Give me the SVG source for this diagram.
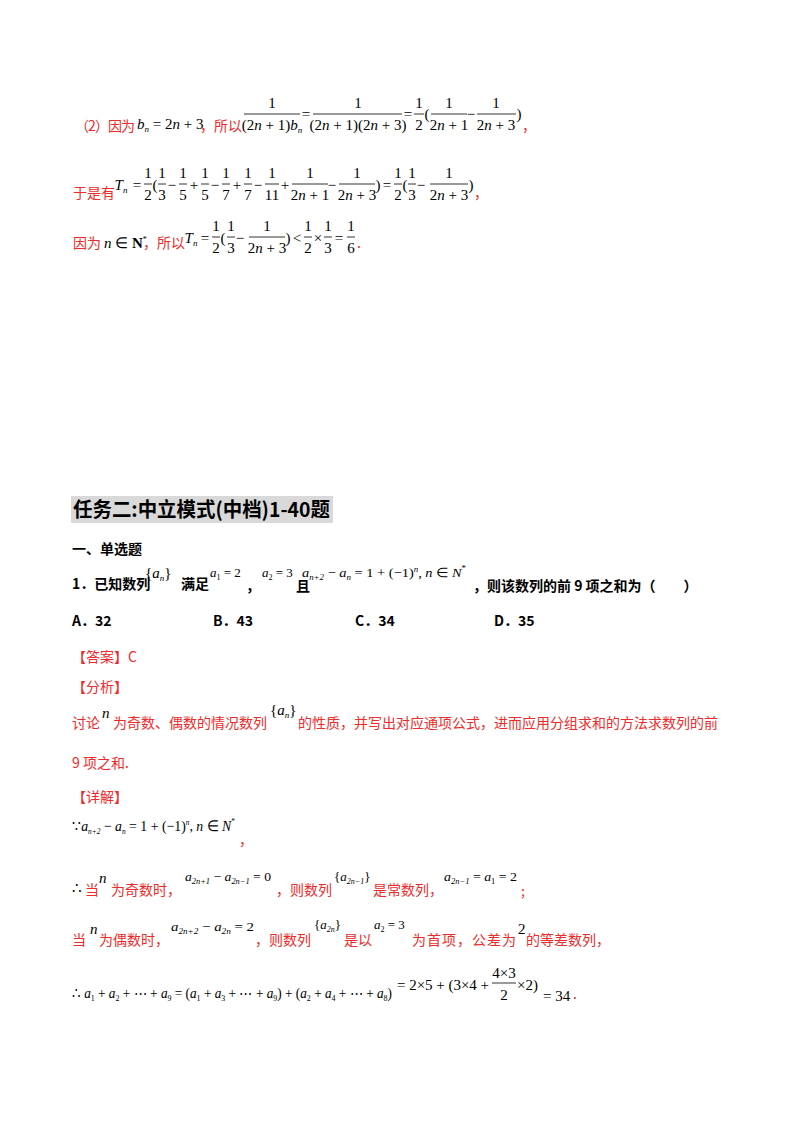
<svg xmlns="http://www.w3.org/2000/svg" width="800" height="1132" viewBox="0 0 800 1132">
<style>
.r{fill:#ee2a2a;font-family:"Noto Sans CJK SC","Liberation Sans",sans-serif;font-size:14px}
.b{fill:#000;font-family:"Noto Sans CJK SC",sans-serif;font-size:14px;font-weight:bold}
.m{fill:#000;font-family:"Liberation Serif",serif;font-size:15px}
.s{fill:#000;font-family:"Liberation Serif",serif;font-size:13px}
.i{font-style:italic}
.c{text-anchor:middle}
.f{stroke:#000;stroke-width:0.8}
</style>
<rect width="800" height="1132" fill="#fff"/>
<!-- line 1 -->
<text class="r" x="75" y="131" textLength="60">（2）因为</text>
<text class="m" x="137" y="129"><tspan class="i">b</tspan><tspan font-size="9" dy="3" class="i">n</tspan><tspan dy="-3"> = 2</tspan><tspan class="i">n</tspan> + 3</text>
<text class="r" x="200" y="131">，所以</text>
<g class="m c"><text x="272" y="108">1</text><text x="272" y="130">(2<tspan class="i">n</tspan> + 1)<tspan class="i">b</tspan><tspan font-size="9" class="i" dy="3">n</tspan></text>
<text x="358" y="108">1</text><text x="358" y="130">(2<tspan class="i">n</tspan> + 1)(2<tspan class="i">n</tspan> + 3)</text>
<text x="306" y="119">=</text><text x="408" y="119">=</text>
<text x="419" y="108">1</text><text x="419" y="130">2</text><text x="427" y="119">(</text>
<text x="449" y="108">1</text><text x="449" y="130">2<tspan class="i">n</tspan> + 1</text><text x="471" y="119">−</text>
<text x="496" y="108">1</text><text x="496" y="130">2<tspan class="i">n</tspan> + 3</text><text x="519" y="119">)</text></g>
<g class="f"><line x1="244" y1="114" x2="300" y2="114"/><line x1="313" y1="114" x2="402" y2="114"/><line x1="414" y1="114" x2="424" y2="114"/><line x1="431" y1="114" x2="467" y2="114"/><line x1="477" y1="114" x2="516" y2="114"/></g>
<text class="r" x="522" y="131">，</text>
<!-- line 2 -->
<text class="r" x="73" y="198">于是有</text>
<g class="m c">
<text x="121" y="190" class="i">T<tspan font-size="9" dy="3">n</tspan></text><text x="137" y="190">=</text>
<text x="148" y="178">1</text><text x="148" y="200">2</text><text x="155" y="190">(</text>
<text x="162" y="178">1</text><text x="162" y="200">3</text><text x="172" y="190">−</text>
<text x="183" y="178">1</text><text x="183" y="200">5</text><text x="194" y="190">+</text>
<text x="205" y="178">1</text><text x="205" y="200">5</text><text x="215" y="190">−</text>
<text x="226" y="178">1</text><text x="226" y="200">7</text><text x="237" y="190">+</text>
<text x="248" y="178">1</text><text x="248" y="200">7</text><text x="258" y="190">−</text>
<text x="272" y="178">1</text><text x="272" y="200">11</text><text x="285" y="190">+</text>
<text x="310" y="178">1</text><text x="310" y="200">2<tspan class="i">n</tspan> + 1</text><text x="332" y="190">−</text>
<text x="357" y="178">1</text><text x="357" y="200">2<tspan class="i">n</tspan> + 3</text><text x="378" y="190">)</text><text x="387" y="190">=</text>
<text x="398" y="178">1</text><text x="398" y="200">2</text><text x="405" y="190">(</text>
<text x="412" y="178">1</text><text x="412" y="200">3</text><text x="421" y="190">−</text>
<text x="449" y="178">1</text><text x="449" y="200">2<tspan class="i">n</tspan> + 3</text><text x="471" y="190">)</text></g>
<g class="f"><line x1="144" y1="184" x2="152" y2="184"/><line x1="158" y1="184" x2="166" y2="184"/><line x1="179" y1="184" x2="187" y2="184"/><line x1="201" y1="184" x2="209" y2="184"/><line x1="222" y1="184" x2="230" y2="184"/><line x1="244" y1="184" x2="252" y2="184"/><line x1="265" y1="184" x2="279" y2="184"/><line x1="292" y1="184" x2="328" y2="184"/><line x1="339" y1="184" x2="375" y2="184"/><line x1="394" y1="184" x2="402" y2="184"/><line x1="408" y1="184" x2="416" y2="184"/><line x1="430" y1="184" x2="468" y2="184"/></g>
<text class="r" x="474" y="198">，</text>
<!-- line 3 -->
<text class="r" x="73" y="248">因为</text>
<text class="m" x="104" y="248"><tspan class="i">n</tspan> ∈ <tspan font-weight="bold">N</tspan><tspan font-size="8" dy="-6">*</tspan></text>
<text class="r" x="143" y="248">，所以</text>
<g class="m c">
<text x="191" y="243" class="i">T<tspan font-size="9" dy="3">n</tspan></text><text x="205" y="243">=</text>
<text x="216" y="231">1</text><text x="216" y="253">2</text><text x="223" y="243">(</text>
<text x="231" y="231">1</text><text x="231" y="253">3</text><text x="240" y="243">−</text>
<text x="267" y="231">1</text><text x="267" y="253">2<tspan class="i">n</tspan> + 3</text><text x="288" y="243">)</text><text x="297" y="243">&lt;</text>
<text x="308" y="231">1</text><text x="308" y="253">2</text><text x="318" y="243">×</text>
<text x="328" y="231">1</text><text x="328" y="253">3</text><text x="339" y="243">=</text>
<text x="351" y="231">1</text><text x="351" y="253">6</text></g>
<g class="f"><line x1="212" y1="237" x2="220" y2="237"/><line x1="227" y1="237" x2="235" y2="237"/><line x1="249" y1="237" x2="285" y2="237"/><line x1="304" y1="237" x2="312" y2="237"/><line x1="324" y1="237" x2="332" y2="237"/><line x1="347" y1="237" x2="355" y2="237"/></g>
<text class="r" x="357" y="248">.</text>
<!-- title -->
<rect x="71" y="496" width="262" height="27" fill="#d9d9d9"/>
<text x="73" y="517" font-family="Noto Sans CJK SC,sans-serif" font-size="20" font-weight="bold" fill="#000" textLength="257" lengthAdjust="spacingAndGlyphs">任务二:中立模式(中档)1-40题</text>
<text class="b" x="72" y="554" font-size="13">一、单选题</text>
<text class="b" x="72" y="589">1．已知数列</text>
<text class="m" x="145" y="578">{<tspan class="i">a</tspan><tspan font-size="9" dy="3" class="i">n</tspan><tspan dy="-3">}</tspan></text>
<text class="b" x="181" y="589">满足</text>
<text class="s" x="210" y="577"><tspan class="i">a</tspan><tspan font-size="8" dy="3">1</tspan><tspan dy="-3"> = 2</tspan></text>
<text class="b" x="246" y="591">，</text>
<text class="s" x="262" y="577"><tspan class="i">a</tspan><tspan font-size="8" dy="3">2</tspan><tspan dy="-3"> = 3</tspan></text>
<text class="b" x="296" y="591">且</text>
<text class="s" x="302" y="577" textLength="164" lengthAdjust="spacingAndGlyphs"><tspan class="i">a</tspan><tspan font-size="8" dy="3" class="i">n+2</tspan><tspan dy="-3"> − </tspan><tspan class="i">a</tspan><tspan font-size="8" dy="3" class="i">n</tspan><tspan dy="-3"> = 1 + (−1)</tspan><tspan font-size="8" dy="-5" class="i">n</tspan><tspan dy="5">, </tspan><tspan class="i">n</tspan> ∈ <tspan class="i">N</tspan><tspan font-size="8" dy="-6">*</tspan></text>
<text class="b" x="473" y="591">，则该数列的前 9 项之和为（　　）</text>
<text class="b" x="72" y="626">A．32</text><text class="b" x="213" y="626">B．43</text><text class="b" x="355" y="626">C．34</text><text class="b" x="494" y="626">D．35</text>
<text class="r" x="72" y="662">【答案】C</text>
<text class="r" x="72" y="692">【分析】</text>
<text class="r" x="72" y="728">讨论</text>
<text class="m i" x="102" y="718">n</text>
<text class="r" x="113" y="728">为奇数、偶数的情况数列</text>
<text class="m" x="270" y="715">{<tspan class="i">a</tspan><tspan font-size="9" dy="3" class="i">n</tspan><tspan dy="-3">}</tspan></text>
<text class="r" x="298" y="728" textLength="420">的性质，并写出对应通项公式，进而应用分组求和的方法求数列的前</text>
<text class="r" x="72" y="768">9 项之和.</text>
<text class="r" x="72" y="802">【详解】</text>
<text class="m" x="72" y="831" textLength="163" lengthAdjust="spacingAndGlyphs">∵<tspan class="i">a</tspan><tspan font-size="8" dy="3" class="i">n+2</tspan><tspan dy="-3"> − </tspan><tspan class="i">a</tspan><tspan font-size="8" dy="3" class="i">n</tspan><tspan dy="-3"> = 1 + (−1)</tspan><tspan font-size="8" dy="-6" class="i">n</tspan><tspan dy="6">, </tspan><tspan class="i">n</tspan> ∈ <tspan class="i">N</tspan><tspan font-size="8" dy="-7">*</tspan></text>
<text class="r" x="239" y="845">，</text>
<text class="m" x="72" y="893">∴</text>
<text class="r" x="85" y="895">当</text><text class="m i" x="99" y="883" font-size="16">n</text>
<text class="r" x="111" y="895">为奇数时，</text>
<text class="s" x="185" y="881" textLength="86" lengthAdjust="spacingAndGlyphs"><tspan class="i">a</tspan><tspan font-size="8" dy="3" class="i">2n+1</tspan><tspan dy="-3"> − </tspan><tspan class="i">a</tspan><tspan font-size="8" dy="3" class="i">2n−1</tspan><tspan dy="-3"> = 0</tspan></text>
<text class="r" x="276" y="895">，则数列</text>
<text class="s" x="334" y="881">{<tspan class="i">a</tspan><tspan font-size="8" dy="3" class="i">2n−1</tspan><tspan dy="-3">}</tspan></text>
<text class="r" x="373" y="895">是常数列，</text>
<text class="s" x="444" y="881" textLength="73" lengthAdjust="spacingAndGlyphs"><tspan class="i">a</tspan><tspan font-size="8" dy="3" class="i">2n−1</tspan><tspan dy="-3"> = </tspan><tspan class="i">a</tspan><tspan font-size="8" dy="3">1</tspan><tspan dy="-3"> = 2</tspan></text>
<text class="r" x="521" y="896">;</text>
<text class="r" x="72" y="945">当</text><text class="m i" x="90" y="934" font-size="16">n</text>
<text class="r" x="99" y="945">为偶数时，</text>
<text class="s" x="171" y="931" textLength="83" lengthAdjust="spacingAndGlyphs"><tspan class="i">a</tspan><tspan font-size="8" dy="3" class="i">2n+2</tspan><tspan dy="-3"> − </tspan><tspan class="i">a</tspan><tspan font-size="8" dy="3" class="i">2n</tspan><tspan dy="-3"> = 2</tspan></text>
<text class="r" x="255" y="945">，则数列</text>
<text class="s" x="314" y="929">{<tspan class="i">a</tspan><tspan font-size="8" dy="3" class="i">2n</tspan><tspan dy="-3">}</tspan></text>
<text class="r" x="344" y="945">是以</text>
<text class="s" x="374" y="929"><tspan class="i">a</tspan><tspan font-size="8" dy="3">2</tspan><tspan dy="-3"> = 3</tspan></text>
<text class="r" x="412" y="945" textLength="104">为首项，公差为</text>
<text class="m" x="518" y="934" font-size="16">2</text>
<text class="r" x="526" y="945">的等差数列，</text>
<text class="m" x="72" y="998" textLength="320" lengthAdjust="spacingAndGlyphs">∴ <tspan class="i">a</tspan><tspan font-size="9" dy="3">1</tspan><tspan dy="-3"> + </tspan><tspan class="i">a</tspan><tspan font-size="9" dy="3">2</tspan><tspan dy="-3"> + ⋯ + </tspan><tspan class="i">a</tspan><tspan font-size="9" dy="3">9</tspan><tspan dy="-3"> = (</tspan><tspan class="i">a</tspan><tspan font-size="9" dy="3">1</tspan><tspan dy="-3"> + </tspan><tspan class="i">a</tspan><tspan font-size="9" dy="3">3</tspan><tspan dy="-3"> + ⋯ + </tspan><tspan class="i">a</tspan><tspan font-size="9" dy="3">9</tspan><tspan dy="-3">) + (</tspan><tspan class="i">a</tspan><tspan font-size="9" dy="3">2</tspan><tspan dy="-3"> + </tspan><tspan class="i">a</tspan><tspan font-size="9" dy="3">4</tspan><tspan dy="-3"> + ⋯ + </tspan><tspan class="i">a</tspan><tspan font-size="9" dy="3">8</tspan><tspan dy="-3">)</tspan></text>
<text class="m" x="397" y="990" textLength="92">= 2×5 + (3×4 +</text>
<text class="m c" x="504" y="978" font-size="14">4×3</text><text class="m c" x="504" y="1000" font-size="14">2</text>
<line class="f" x1="492" y1="983" x2="516" y2="983"/>
<text class="m" x="517" y="990">×2)</text>
<text class="m" x="543" y="1001">= 34</text>
<text class="r" x="573" y="999">.</text>
</svg>
